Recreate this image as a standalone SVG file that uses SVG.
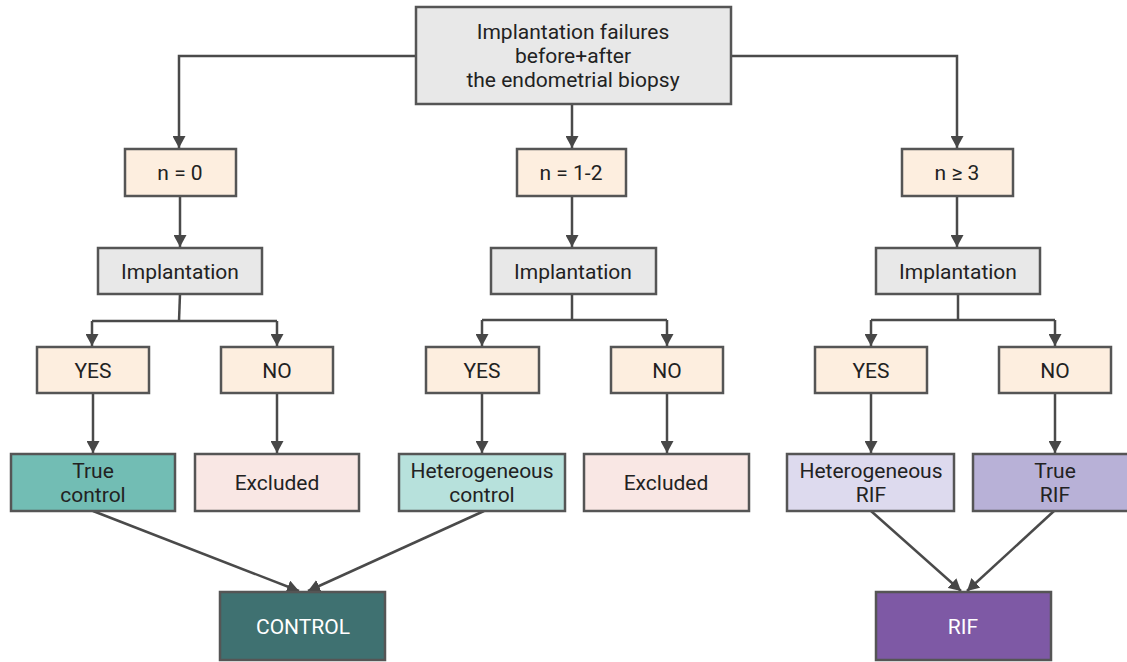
<svg xmlns="http://www.w3.org/2000/svg" width="1127" height="662" viewBox="0 0 1127 662">
  <defs>
    <marker id="arrow" markerUnits="userSpaceOnUse" markerWidth="13" markerHeight="13" refX="12" refY="6.5" orient="auto">
      <path d="M0,0 L12,6.5 L0,13 z" fill="#474747"/>
    </marker>
    <style>
      .box { stroke: #555; stroke-width: 2.5; }
      .grey { fill: #e8e8e8; }
      .peach { fill: #fdeedf; }
      .excl { fill: #f9e7e4; }
      .tctrl { fill: #72bdb4; }
      .hctrl { fill: #b7e1dc; }
      .ctrl { fill: #3f7171; }
      .hrif { fill: #dddaee; }
      .trif { fill: #b8b1d7; }
      .rif { fill: #7e59a5; }
      text { font-family: Roboto, "Liberation Sans", sans-serif; font-size: 21px; fill: #222; text-anchor: middle; }
      text.light { fill: #fff; }
      .conn { fill: none; stroke: #4a4a4a; stroke-width: 2.5; }
    </style>
  </defs>

  <!-- connectors -->
  <g id="connectors">
    <path class="conn" d="M416,56 H179 V148" marker-end="url(#arrow)"/>
    <path class="conn" d="M572,104 V148" marker-end="url(#arrow)"/>
    <path class="conn" d="M731,56 H957 V148" marker-end="url(#arrow)"/>

    <path class="conn" d="M180,196 V247" marker-end="url(#arrow)"/>
    <path class="conn" d="M572,196 V247" marker-end="url(#arrow)"/>
    <path class="conn" d="M957,196 V247" marker-end="url(#arrow)"/>

    <path class="conn" d="M180,294 L179,321"/>
    <path class="conn" d="M92,321 H277"/>
    <path class="conn" d="M92,321 V346" marker-end="url(#arrow)"/>
    <path class="conn" d="M277,321 V346" marker-end="url(#arrow)"/>

    <path class="conn" d="M572,294 V320"/>
    <path class="conn" d="M482,320 H667"/>
    <path class="conn" d="M482,320 V346" marker-end="url(#arrow)"/>
    <path class="conn" d="M667,320 V346" marker-end="url(#arrow)"/>

    <path class="conn" d="M958,294 V320"/>
    <path class="conn" d="M871,320 H1055"/>
    <path class="conn" d="M871,320 V346" marker-end="url(#arrow)"/>
    <path class="conn" d="M1055,320 V346" marker-end="url(#arrow)"/>

    <path class="conn" d="M93,393 V453" marker-end="url(#arrow)"/>
    <path class="conn" d="M277,393 V453" marker-end="url(#arrow)"/>
    <path class="conn" d="M482,393 V453" marker-end="url(#arrow)"/>
    <path class="conn" d="M667,393 V453" marker-end="url(#arrow)"/>
    <path class="conn" d="M871,393 V453" marker-end="url(#arrow)"/>
    <path class="conn" d="M1055,393 V453" marker-end="url(#arrow)"/>

    <path class="conn" d="M93,511 L299,591" marker-end="url(#arrow)"/>
    <path class="conn" d="M484,511 L308,591" marker-end="url(#arrow)"/>
    <path class="conn" d="M871,511 L961,591" marker-end="url(#arrow)"/>
    <path class="conn" d="M1054,511 L967,591" marker-end="url(#arrow)"/>
  </g>

  <!-- root -->
  <g id="failures">
    <rect class="box grey" x="416" y="7" width="315" height="97"/>
    <text x="573" y="39">Implantation failures</text>
    <text x="573" y="63">before+after</text>
    <text x="573" y="87">the endometrial biopsy</text>
  </g>

  <!-- counts -->
  <g id="n0">
    <rect class="box peach" x="125" y="149" width="111" height="47"/>
    <text x="180" y="180">n = 0</text>
  </g>
  <g id="n12">
    <rect class="box peach" x="517" y="149" width="109" height="47"/>
    <text x="571" y="180">n = 1-2</text>
  </g>
  <g id="n3">
    <rect class="box peach" x="902" y="149" width="111" height="47"/>
    <text x="957" y="180">n ≥ 3</text>
  </g>

  <!-- implantation -->
  <g id="impl-left">
    <rect class="box grey" x="98" y="248" width="164" height="46"/>
    <text x="180" y="278.5">Implantation</text>
  </g>
  <g id="impl-mid">
    <rect class="box grey" x="491" y="248" width="165" height="46"/>
    <text x="573" y="278.5">Implantation</text>
  </g>
  <g id="impl-right">
    <rect class="box grey" x="876" y="248" width="164" height="46"/>
    <text x="958" y="278.5">Implantation</text>
  </g>

  <!-- yes / no -->
  <g id="yes-left">
    <rect class="box peach" x="37" y="347" width="112" height="46"/>
    <text x="93" y="377.5">YES</text>
  </g>
  <g id="no-left">
    <rect class="box peach" x="221" y="347" width="112" height="46"/>
    <text x="277" y="377.5">NO</text>
  </g>
  <g id="yes-mid">
    <rect class="box peach" x="426" y="347" width="113" height="46"/>
    <text x="482" y="377.5">YES</text>
  </g>
  <g id="no-mid">
    <rect class="box peach" x="611" y="347" width="112" height="46"/>
    <text x="667" y="377.5">NO</text>
  </g>
  <g id="yes-right">
    <rect class="box peach" x="815" y="347" width="112" height="46"/>
    <text x="871" y="377.5">YES</text>
  </g>
  <g id="no-right">
    <rect class="box peach" x="999" y="347" width="112" height="46"/>
    <text x="1055" y="377.5">NO</text>
  </g>

  <!-- outcomes -->
  <g id="true-control">
    <rect class="box tctrl" x="11" y="454" width="164" height="57"/>
    <text x="93" y="478">True</text>
    <text x="93" y="502">control</text>
  </g>
  <g id="excluded-left">
    <rect class="box excl" x="195" y="454" width="164" height="57"/>
    <text x="277" y="490">Excluded</text>
  </g>
  <g id="het-control">
    <rect class="box hctrl" x="399" y="454" width="166" height="57"/>
    <text x="482" y="478">Heterogeneous</text>
    <text x="482" y="502">control</text>
  </g>
  <g id="excluded-mid">
    <rect class="box excl" x="584" y="454" width="165" height="57"/>
    <text x="666" y="490">Excluded</text>
  </g>
  <g id="het-rif">
    <rect class="box hrif" x="787" y="454" width="167" height="57"/>
    <text x="871" y="478">Heterogeneous</text>
    <text x="871" y="502">RIF</text>
  </g>
  <g id="true-rif">
    <rect class="box trif" x="973" y="454" width="164" height="57"/>
    <text x="1055" y="478">True</text>
    <text x="1055" y="502">RIF</text>
  </g>

  <!-- groups -->
  <g id="control">
    <rect class="box ctrl" x="220" y="592" width="165" height="68"/>
    <text class="light" x="303" y="633.5">CONTROL</text>
  </g>
  <g id="rif">
    <rect class="box rif" x="876" y="592" width="175" height="68"/>
    <text class="light" x="963" y="633.5">RIF</text>
  </g>
</svg>
